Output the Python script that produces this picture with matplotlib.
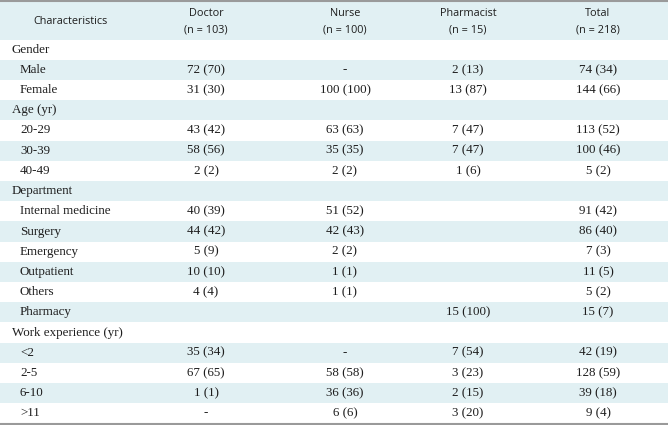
import matplotlib
matplotlib.use("Agg")
import matplotlib.pyplot as plt
from matplotlib.patches import Rectangle

# table content
columns = ["Characteristics", "Doctor\n(n = 103)", "Nurse\n(n = 100)",
           "Pharmacist\n(n = 15)", "Total\n(n = 218)"]
row_labels = ["Gender", "Male", "Female", "Age (yr)", "20-29", "30-39", "40-49",
              "Department", "Internal medicine", "Surgery", "Emergency",
              "Outpatient", "Others", "Pharmacy", "Work experience (yr)",
              "<2", "2-5", "6-10", ">11"]
is_group = [True, False, False, True, False, False, False,
            True, False, False, False, False, False, False, True,
            False, False, False, False]
doctor = ["", "72 (70)", "31 (30)", "", "43 (42)", "58 (56)", "2 (2)",
          "", "40 (39)", "44 (42)", "5 (9)", "10 (10)", "4 (4)", "", "",
          "35 (34)", "67 (65)", "1 (1)", "-"]
nurse = ["", "-", "100 (100)", "", "63 (63)", "35 (35)", "2 (2)",
         "", "51 (52)", "42 (43)", "2 (2)", "1 (1)", "1 (1)", "", "",
         "-", "58 (58)", "36 (36)", "6 (6)"]
pharmacist = ["", "2 (13)", "13 (87)", "", "7 (47)", "7 (47)", "1 (6)",
              "", "", "", "", "", "", "15 (100)", "",
              "7 (54)", "3 (23)", "2 (15)", "3 (20)"]
total = ["", "74 (34)", "144 (66)", "", "113 (52)", "100 (46)", "5 (2)",
         "", "91 (42)", "86 (40)", "7 (3)", "11 (5)", "5 (2)", "15 (7)", "",
         "42 (19)", "128 (59)", "39 (18)", "9 (4)"]

W, H = 668, 425
fig = plt.figure(figsize=(W / 100, H / 100), dpi=100)
ax = fig.add_axes([0, 0, 1, 1])
ax.set_xlim(0, W)
ax.set_ylim(H, 0)
ax.axis("off")

blue = "#e1f0f3"
line = "#9a9a9a"
head_top, head_bot = 2, 39.5
row_h = (H - 1.5 - head_bot) / len(row_labels)
col_x = [71, 206, 345, 468, 598]

# header
ax.add_patch(Rectangle((0, head_top), W, head_bot - head_top, color=blue, lw=0))
ax.plot([0, W], [1.2, 1.2], color=line, lw=1.5)
for x, c in zip(col_x, columns):
    ax.text(x, (head_top + head_bot) / 2 + 1, c, ha="center", va="center",
            family="Open Sans", fontsize=7.8, color="#1e1e1e", linespacing=1.75)

# body
values = [doctor, nurse, pharmacist, total]
for i, lab in enumerate(row_labels):
    y0 = head_bot + i * row_h
    yc = y0 + row_h / 2
    if i % 2 == 1:
        ax.add_patch(Rectangle((0, y0), W, row_h, color=blue, lw=0))
    ax.text(12 if is_group[i] else 20, yc, lab, ha="left", va="center",
            family="Liberation Serif", fontsize=9.4, color="#1e1e1e")
    for x, col in zip(col_x[1:], values):
        if col[i]:
            ax.text(x, yc, col[i], ha="center", va="center",
                    family="Liberation Serif", fontsize=9.4, color="#1e1e1e")
ax.plot([0, W], [H - 1.2, H - 1.2], color=line, lw=1.5)

fig.savefig("out.png", dpi=100)
